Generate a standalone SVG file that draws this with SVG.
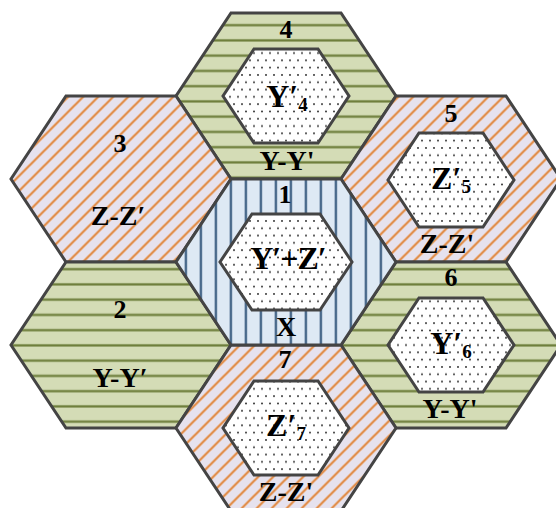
<svg xmlns="http://www.w3.org/2000/svg" width="556" height="508" viewBox="0 0 556 508">
<defs>
<pattern id="green" patternUnits="userSpaceOnUse" x="0" y="0" width="20" height="15.25">
<rect width="20" height="15.25" fill="#d4dcb6"/>
<rect y="8.4" width="20" height="3" fill="#a9b684"/>
<rect y="9" width="20" height="1.8" fill="#6f7f3c"/>
</pattern>
<pattern id="orange" patternUnits="userSpaceOnUse" x="0" y="0" width="15" height="15">
<rect width="15" height="15" fill="#e6e2ee"/>
<path d="M-3.75,3.75 L3.75,-3.75 M0,15 L15,0 M11.25,18.75 L18.75,11.25" stroke="#eabb98" stroke-width="3"/>
<path d="M-3.75,3.75 L3.75,-3.75 M0,15 L15,0 M11.25,18.75 L18.75,11.25" stroke="#df8a47" stroke-width="1.5"/>
</pattern>
<pattern id="blue" patternUnits="userSpaceOnUse" x="0" y="0" width="15" height="20">
<rect width="15" height="20" fill="#dee9f4"/>
<rect x="4.4" width="3" height="20" fill="#98adc4"/>
<rect x="4.9" width="2" height="20" fill="#4a6a8b"/>
</pattern>
<pattern id="dots" patternUnits="userSpaceOnUse" x="0" y="0" width="8" height="14.6">
<rect width="8" height="14.6" fill="#ffffff"/>
<circle cx="2" cy="2" r="1" fill="#2e2e2e"/>
<circle cx="6" cy="9.3" r="1" fill="#2e2e2e"/>
</pattern>
</defs>
<style>
.hex{stroke:#444;stroke-width:3;stroke-linejoin:miter}
.g{fill:url(#green)}
.o{fill:url(#orange)}
.b{fill:url(#blue)}
.d{fill:url(#dots)}
text{font-family:"Liberation Serif","Times New Roman",serif;font-weight:bold;fill:#000;text-anchor:middle}
.num{font-size:26px}
.lab{font-size:28px}
.in{font-size:32px}
.sub{font-size:19px}
</style>
<g id="hex4">
<polygon class="hex g" points="231,13 341,13 396,96 341,179 231,179 176,96"/>
<polygon class="hex d" points="254,49 318,49 349,96 318,143 254,143 223,96"/>
<text class="num" x="286" y="38">4</text>
<text class="in" x="287" y="107">Y′<tspan class="sub" dy="4">4</tspan></text>
<text class="lab" x="287" y="170">Y-Y'</text>
</g>
<g id="hex3">
<polygon class="hex o" points="66,96 176,96 231,179 176,262 66,262 11,179"/>
<text class="num" x="120" y="152">3</text>
<text class="lab" x="118" y="225">Z-Z′</text>
</g>
<g id="hex5">
<polygon class="hex o" points="396,96 506,96 561,179 506,262 396,262 341,179"/>
<polygon class="hex d" points="419,133 483,133 514,180 483,227 419,227 388,180"/>
<text class="num" x="451" y="122">5</text>
<text class="in" x="451" y="189">Z′<tspan class="sub" dy="4">5</tspan></text>
<text class="lab" x="447" y="253">Z-Z'</text>
</g>
<g id="hex2">
<polygon class="hex g" points="66,262 176,262 231,345 176,428 66,428 11,345"/>
<text class="num" x="120" y="318">2</text>
<text class="lab" x="120" y="387">Y-Y′</text>
</g>
<g id="hex6">
<polygon class="hex g" points="396,262 506,262 561,345 506,428 396,428 341,345"/>
<polygon class="hex d" points="419,298 483,298 514,345 483,392 419,392 388,345"/>
<text class="num" x="451" y="286">6</text>
<text class="in" x="451" y="354">Y′<tspan class="sub" dy="4">6</tspan></text>
<text class="lab" x="450" y="418">Y-Y'</text>
</g>
<g id="hex7">
<polygon class="hex o" points="231,345 341,345 396,428 341,511 231,511 176,428"/>
<polygon class="hex d" points="254,381 318,381 349,428 318,475 254,475 223,428"/>
<text class="num" x="285" y="368">7</text>
<text class="in" x="286" y="436">Z′<tspan class="sub" dy="4">7</tspan></text>
<text class="lab" x="286" y="501">Z-Z'</text>
</g>
<g id="hex1">
<polygon class="hex b" points="231,179 341,179 396,262 341,345 231,345 176,262"/>
<polygon class="hex d" points="252,214 320,214 352,262 320,310 252,310 220,262"/>
<text class="num" x="285" y="203">1</text>
<text class="in" x="288" y="269" letter-spacing="-1">Y′+Z′</text>
<text class="lab" x="286" y="336">X</text>
</g>
</svg>
